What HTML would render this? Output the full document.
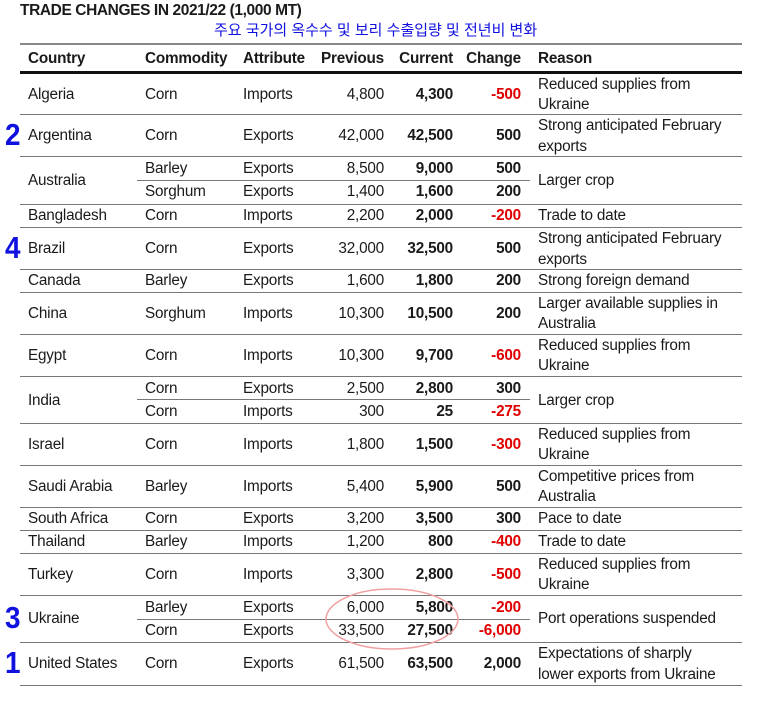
<!DOCTYPE html><html><head><meta charset="utf-8"><style>
body{margin:0;width:760px;height:701px;background:#fff;position:relative;overflow:hidden;font-family:"Liberation Sans","Noto Sans CJK KR",sans-serif;color:#1a1a1a}
div{position:absolute;white-space:nowrap}
.t{font-size:15.3px;height:20px;line-height:22px;letter-spacing:-0.2px}
.b{font-weight:bold}.r{text-align:right}.red{color:#e00000;font-weight:bold}
.p{left:300px;width:84px;text-align:right}.cu{left:380px;width:73px;text-align:right;font-weight:bold}.ch{left:450px;width:71px;text-align:right;font-weight:bold}
.co{left:28px}.cm{left:145px}.at{left:243px}.re{left:538px}
.ln{left:20px;width:722px;height:0;border-top:1.5px solid #777}
.sl{left:137px;width:393px;height:0;border-top:1.5px solid #777}
.n{color:#1010e0;font-weight:bold;font-size:31px;line-height:30px;left:5px;transform:scaleX(0.9);transform-origin:left}
</style></head><body>
<div class="b" style="left:20px;top:2px;font-size:15.5px;letter-spacing:-0.4px">TRADE CHANGES IN 2021/22 (1,000 MT)</div>
<div style="left:214px;top:19px;font-size:15px;color:#1010e0">주요 국가의 옥수수 및 보리 수출입량 및 전년비 변화</div>
<div class="ln" style="top:43px;border-top:2px solid #888"></div>
<div class="t b co" style="top:48px">Country</div><div class="t b cm" style="top:48px">Commodity</div><div class="t b at" style="top:48px">Attribute</div><div class="t b p" style="top:48px">Previous</div><div class="t b cu" style="top:48px">Current</div><div class="t b ch" style="top:48px;color:#1a1a1a">Change</div><div class="t b re" style="top:48px">Reason</div>
<div class="ln" style="top:71px;border-top:3.5px solid #111"></div>

<div class="t co" style="top:84px">Algeria</div><div class="t cm" style="top:84px">Corn</div><div class="t at" style="top:84px">Imports</div><div class="t p" style="top:84px">4,800</div><div class="t cu" style="top:84px">4,300</div><div class="t ch red" style="top:84px">-500</div><div class="t re" style="top:74px">Reduced supplies from</div><div class="t re" style="top:94px">Ukraine</div>
<div class="ln" style="top:114px"></div>
<div class="n" style="top:120px">2</div>
<div class="t co" style="top:125px">Argentina</div><div class="t cm" style="top:125px">Corn</div><div class="t at" style="top:125px">Exports</div><div class="t p" style="top:125px">42,000</div><div class="t cu" style="top:125px">42,500</div><div class="t ch" style="top:125px">500</div><div class="t re" style="top:115px">Strong anticipated February</div><div class="t re" style="top:136px">exports</div>
<div class="ln" style="top:156px"></div>
<div class="t co" style="top:170px">Australia</div>
<div class="t cm" style="top:158px">Barley</div><div class="t at" style="top:158px">Exports</div><div class="t p" style="top:158px">8,500</div><div class="t cu" style="top:158px">9,000</div><div class="t ch" style="top:158px">500</div>
<div class="sl" style="top:180px"></div>
<div class="t cm" style="top:181px">Sorghum</div><div class="t at" style="top:181px">Exports</div><div class="t p" style="top:181px">1,400</div><div class="t cu" style="top:181px">1,600</div><div class="t ch" style="top:181px">200</div>
<div class="t re" style="top:170px">Larger crop</div>
<div class="ln" style="top:204px"></div>
<div class="t co" style="top:205px">Bangladesh</div><div class="t cm" style="top:205px">Corn</div><div class="t at" style="top:205px">Imports</div><div class="t p" style="top:205px">2,200</div><div class="t cu" style="top:205px">2,000</div><div class="t ch red" style="top:205px">-200</div><div class="t re" style="top:205px">Trade to date</div>
<div class="ln" style="top:227px"></div>
<div class="n" style="top:233px">4</div>
<div class="t co" style="top:238px">Brazil</div><div class="t cm" style="top:238px">Corn</div><div class="t at" style="top:238px">Exports</div><div class="t p" style="top:238px">32,000</div><div class="t cu" style="top:238px">32,500</div><div class="t ch" style="top:238px">500</div><div class="t re" style="top:228px">Strong anticipated February</div><div class="t re" style="top:249px">exports</div>
<div class="ln" style="top:269px"></div>
<div class="t co" style="top:270px">Canada</div><div class="t cm" style="top:270px">Barley</div><div class="t at" style="top:270px">Exports</div><div class="t p" style="top:270px">1,600</div><div class="t cu" style="top:270px">1,800</div><div class="t ch" style="top:270px">200</div><div class="t re" style="top:270px">Strong foreign demand</div>
<div class="ln" style="top:292px"></div>
<div class="t co" style="top:303px">China</div><div class="t cm" style="top:303px">Sorghum</div><div class="t at" style="top:303px">Imports</div><div class="t p" style="top:303px">10,300</div><div class="t cu" style="top:303px">10,500</div><div class="t ch" style="top:303px">200</div><div class="t re" style="top:293px">Larger available supplies in</div><div class="t re" style="top:313px">Australia</div>
<div class="ln" style="top:334px"></div>
<div class="t co" style="top:345px">Egypt</div><div class="t cm" style="top:345px">Corn</div><div class="t at" style="top:345px">Imports</div><div class="t p" style="top:345px">10,300</div><div class="t cu" style="top:345px">9,700</div><div class="t ch red" style="top:345px">-600</div><div class="t re" style="top:335px">Reduced supplies from</div><div class="t re" style="top:355px">Ukraine</div>
<div class="ln" style="top:376px"></div>
<div class="t co" style="top:390px">India</div>
<div class="t cm" style="top:378px">Corn</div><div class="t at" style="top:378px">Exports</div><div class="t p" style="top:378px">2,500</div><div class="t cu" style="top:378px">2,800</div><div class="t ch" style="top:378px">300</div>
<div class="sl" style="top:399px"></div>
<div class="t cm" style="top:401px">Corn</div><div class="t at" style="top:401px">Imports</div><div class="t p" style="top:401px">300</div><div class="t cu" style="top:401px">25</div><div class="t ch red" style="top:401px">-275</div>
<div class="t re" style="top:390px">Larger crop</div>
<div class="ln" style="top:423px"></div>
<div class="t co" style="top:434px">Israel</div><div class="t cm" style="top:434px">Corn</div><div class="t at" style="top:434px">Imports</div><div class="t p" style="top:434px">1,800</div><div class="t cu" style="top:434px">1,500</div><div class="t ch red" style="top:434px">-300</div><div class="t re" style="top:424px">Reduced supplies from</div><div class="t re" style="top:444px">Ukraine</div>
<div class="ln" style="top:465px"></div>
<div class="t co" style="top:476px">Saudi Arabia</div><div class="t cm" style="top:476px">Barley</div><div class="t at" style="top:476px">Imports</div><div class="t p" style="top:476px">5,400</div><div class="t cu" style="top:476px">5,900</div><div class="t ch" style="top:476px">500</div><div class="t re" style="top:466px">Competitive prices from</div><div class="t re" style="top:486px">Australia</div>
<div class="ln" style="top:507px"></div>
<div class="t co" style="top:508px">South Africa</div><div class="t cm" style="top:508px">Corn</div><div class="t at" style="top:508px">Exports</div><div class="t p" style="top:508px">3,200</div><div class="t cu" style="top:508px">3,500</div><div class="t ch" style="top:508px">300</div><div class="t re" style="top:508px">Pace to date</div>
<div class="ln" style="top:530px"></div>
<div class="t co" style="top:531px">Thailand</div><div class="t cm" style="top:531px">Barley</div><div class="t at" style="top:531px">Imports</div><div class="t p" style="top:531px">1,200</div><div class="t cu" style="top:531px">800</div><div class="t ch red" style="top:531px">-400</div><div class="t re" style="top:531px">Trade to date</div>
<div class="ln" style="top:553px"></div>
<div class="t co" style="top:564px">Turkey</div><div class="t cm" style="top:564px">Corn</div><div class="t at" style="top:564px">Imports</div><div class="t p" style="top:564px">3,300</div><div class="t cu" style="top:564px">2,800</div><div class="t ch red" style="top:564px">-500</div><div class="t re" style="top:554px">Reduced supplies from</div><div class="t re" style="top:574px">Ukraine</div>
<div class="ln" style="top:595px"></div>
<div class="n" style="top:603px">3</div>
<div class="t co" style="top:608px">Ukraine</div>
<div class="t cm" style="top:597px">Barley</div><div class="t at" style="top:597px">Exports</div><div class="t p" style="top:597px">6,000</div><div class="t cu" style="top:597px">5,800</div><div class="t ch red" style="top:597px">-200</div>
<div class="sl" style="top:619px"></div>
<div class="t cm" style="top:620px">Corn</div><div class="t at" style="top:620px">Exports</div><div class="t p" style="top:620px">33,500</div><div class="t cu" style="top:620px">27,500</div><div class="t ch red" style="top:620px">-6,000</div>
<div class="t re" style="top:608px">Port operations suspended</div>
<div class="ln" style="top:642px"></div>
<div class="n" style="top:648px">1</div>
<div class="t co" style="top:653px">United States</div><div class="t cm" style="top:653px">Corn</div><div class="t at" style="top:653px">Exports</div><div class="t p" style="top:653px">61,500</div><div class="t cu" style="top:653px">63,500</div><div class="t ch" style="top:653px">2,000</div><div class="t re" style="top:643px">Expectations of sharply</div><div class="t re" style="top:664px">lower exports from Ukraine</div>
<div class="ln" style="top:685px"></div>
<svg style="position:absolute;left:0;top:0" width="760" height="701"><ellipse cx="392" cy="619" rx="66" ry="30" fill="none" stroke="#f0a0a0" stroke-width="1.5"/></svg>
</body></html>
